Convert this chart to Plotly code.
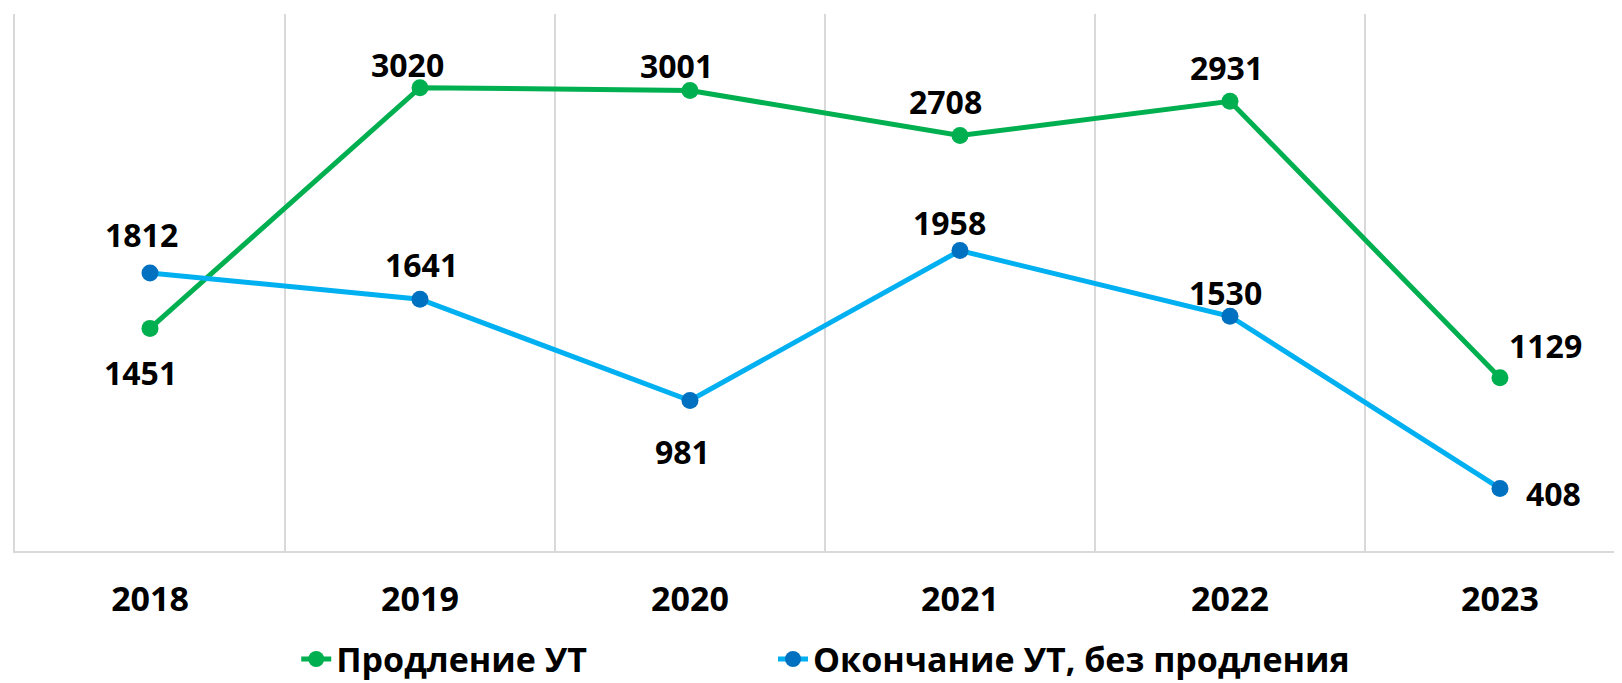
import plotly.graph_objects as go

years = ["2018", "2019", "2020", "2021", "2022", "2023"]
prolong = [1451, 3020, 3001, 2708, 2931, 1129]
ended = [1812, 1641, 981, 1958, 1530, 408]
names = ["Продление УТ", "Окончание УТ, без продления"]

# label offsets in px (styling, not data)
prolong_off = [(-10, -44), (-12, 23), (-13, 25), (-14, 34), (-3, 34), (46, 32)]
ended_off = [(-9, 38), (2, 35), (-7, -51), (-10, 28), (-4, 24), (54, -5)]

FONT = "Open Sans"
GREEN = "#00B050"
LBLUE = "#00B0F0"
DBLUE = "#0070C0"
GRID = "#D9D9D9"

fig = go.Figure()
fig.add_trace(go.Scatter(
    x=years, y=prolong, name=names[0], mode="lines+markers",
    line=dict(color=GREEN, width=5),
    marker=dict(color=GREEN, size=17),
    legend="legend",
))
fig.add_trace(go.Scatter(
    x=years, y=ended, name=names[1], mode="lines+markers",
    line=dict(color=LBLUE, width=5),
    marker=dict(color=DBLUE, size=17),
    legend="legend2",
))

for vals, offs in ((prolong, prolong_off), (ended, ended_off)):
    for i, (v, (dx, dy)) in enumerate(zip(vals, offs)):
        fig.add_annotation(
            x=i, y=v, text=str(v), showarrow=False,
            xshift=dx, yshift=dy, xanchor="center", yanchor="middle",
            font=dict(family=FONT, size=32, color="black", weight="bold"),
        )

leg_common = dict(
    orientation="h", xref="paper", yref="container",
    xanchor="left", y=0.035, yanchor="middle",
    font=dict(family=FONT, size=34, color="black", weight="bold"),
    itemwidth=30, bgcolor="rgba(0,0,0,0)",
)

fig.update_layout(
    width=1614, height=675,
    margin=dict(l=7, r=0, t=6, b=132),
    paper_bgcolor="white", plot_bgcolor="white",
    showlegend=True,
    legend=dict(x=0.175, **leg_common),
    legend2=dict(x=0.4717, **leg_common),
    xaxis=dict(
        type="category", range=[-0.5, 5.452], tickson="boundaries",
        showgrid=True, gridcolor=GRID, gridwidth=1.5,
        showline=True, linecolor=GRID, linewidth=2,
        ticks="", ticklabelstandoff=17,
        tickfont=dict(family=FONT, size=34, color="black", weight="bold"),
        fixedrange=True,
    ),
    yaxis=dict(
        range=[0, 3500], showgrid=False, zeroline=False,
        showline=True, linecolor=GRID, linewidth=1.5,
        showticklabels=False, ticks="", fixedrange=True,
    ),
)

fig.write_html("out.html")
